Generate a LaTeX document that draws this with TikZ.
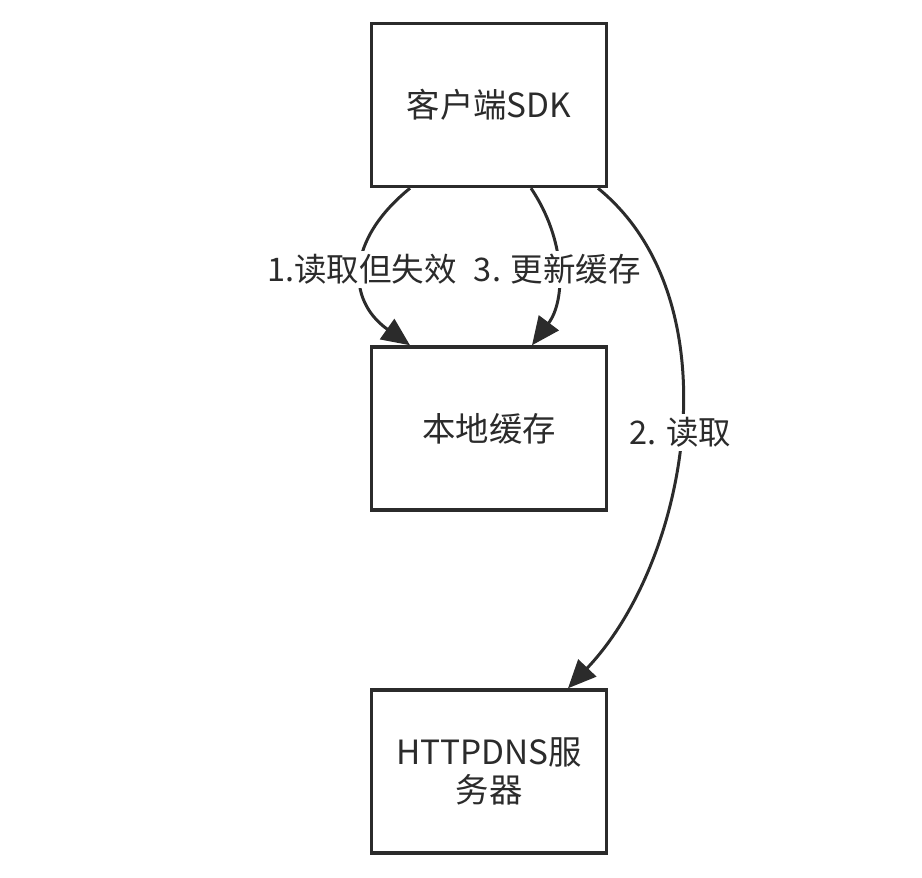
\documentclass[tikz,border=0pt]{standalone}
\usepackage{fontspec}
\newfontfamily\cjk{Noto Sans CJK SC}
\usepackage{tikz}
\usetikzlibrary{arrows.meta, calc}
\definecolor{ink}{HTML}{2B2B2B}

\begin{document}
\begin{tikzpicture}[x=0.02cm, y=-0.02cm]
    \tikzstyle{box}=[draw=ink, line width=2pt, fill=white, minimum width=4.7cm,
                     minimum height=3.26cm, align=center, text=ink,
                     font=\cjk\fontsize{19}{21.5}\selectfont]
    \tikzstyle{arr}=[-{Triangle[length=16pt, width=14pt]}, line width=1.7pt, color=ink]
    \tikzstyle{lbl}=[fill=white, inner sep=2pt, text=ink, font=\cjk\fontsize{18.5}{22}\selectfont]

    \useasboundingbox (0,0) rectangle (922,878);

    \node[box] (sdk)   at (489,105)   {客户端SDK};
    \node[box] (cache) at (489,428.5) {本地缓存};
    \node[box] (dns)   at (489,771.5) {HTTPDNS服\\务器};

    % 1 and 3: sdk <-> cache
    \draw[arr] ($(sdk.south)+(-79,0)$) .. controls (346,240) and (346,300) ..
        node[lbl] {1.读取但失效} ($(cache.north)+(-79,0)$);
    \draw[arr] ($(sdk.south)+(42,0)$) .. controls (566,240) and (566,300) ..
        node[lbl] {3. 更新缓存} ($(cache.north)+(43,0)$);

    % 2: sdk -> dns
    \draw[arr] ($(sdk.south)+(109,0)$) .. controls (735,300) and (690,560) ..
        node[lbl] {2. 读取} ($(dns.north)+(79,0)$);
\end{tikzpicture}
\end{document}
